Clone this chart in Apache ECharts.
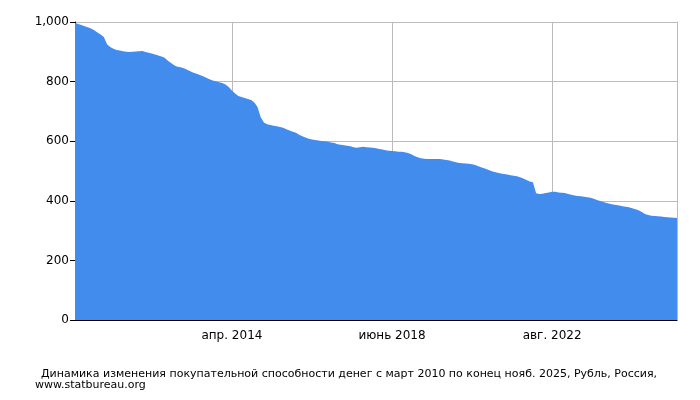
<!DOCTYPE html>
<html><head><meta charset="utf-8">
<script src="https://cdn.jsdelivr.net/npm/echarts@6/dist/echarts.min.js"></script>
<style>body{margin:0}#c{width:700px;height:400px}</style>
</head><body><div id="c"></div>
<script>
var startYear = 2010, startMonth = 3;
var monthNames = ['янв.','февр.','март','апр.','май','июнь','июль','авг.','сент.','окт.','нояб.','дек.'];
var values = [
  997,993,990,986,982,978,972,965,958,950,
  925,916,910,906,904,902,900,899,900,901,902,903,
  899,897,894,891,888,884,880,870,862,855,850,848,
  845,840,835,830,826,822,818,813,808,804,801,798,
  795,790,782,770,760,752,748,745,742,738,730,715,
  680,663,657,654,652,650,648,645,640,636,632,628,
  622,617,612,608,606,604,602,601,600,598,596,594,
  590,588,586,585,583,580,578,580,581,580,579,578,
  576,574,572,570,568,567,566,565,565,563,560,556,
  550,546,543,541,540,540,540,540,540,539,537,535,
  532,529,527,526,525,524,523,520,516,512,508,504,
  500,497,494,492,490,488,486,484,482,479,475,470,
  465,462,425,423,424,426,428,430,430,428,427,426,
  423,420,418,416,415,414,412,410,407,403,399,396,
  393,390,388,386,384,382,380,378,375,372,368,362,
  356,352,350,349,348,347,346,345,344,343,342
];
var labelIdx = [49, 99, 149];
var categories = values.map(function (v, i) {
  var m = startMonth - 1 + i;
  return monthNames[m % 12] + ' ' + (startYear + Math.floor(m / 12));
});
var font = 'DejaVu Sans';

var chart = echarts.init(document.getElementById('c'));
chart.setOption({
  animation: false,
  grid: { left: 75, right: 23, top: 22, bottom: 80 },
  title: [{
    text: 'Динамика изменения покупательной способности денег с март 2010 по конец нояб. 2025, Рубль, Россия,',
    left: 36, top: 364,
    textStyle: { fontFamily: font, fontSize: 11, fontWeight: 'normal', color: '#000' }
  }, {
    text: 'www.statbureau.org',
    left: 30, top: 375,
    textStyle: { fontFamily: font, fontSize: 11, fontWeight: 'normal', color: '#000' }
  }],
  xAxis: {
    type: 'category', data: categories, boundaryGap: false,
    axisLine: { lineStyle: { color: '#000' } },
    axisTick: { show: false },
    axisLabel: {
      interval: function (i) { return labelIdx.indexOf(i) >= 0; },
      fontFamily: font, fontSize: 12, color: '#000', margin: 10
    },
    splitLine: {
      show: true,
      interval: function (i) { return labelIdx.indexOf(i) >= 0; },
      lineStyle: { color: '#bbb' }
    }
  },
  yAxis: [{
    type: 'value', min: 0, max: 1000, interval: 200,
    axisLine: { show: true, lineStyle: { color: '#000' } },
    axisTick: { show: true, length: 5, lineStyle: { color: '#000' } },
    axisLabel: { fontFamily: font, fontSize: 12, color: '#000', margin: 6 },
    splitLine: { lineStyle: { color: '#bbb' } }
  }, {
    type: 'value', min: 0, max: 1000, position: 'right',
    axisLine: { show: true, lineStyle: { color: '#bbb' } },
    axisTick: { show: false }, axisLabel: { show: false }, splitLine: { show: false }
  }],
  series: [{
    type: 'line', data: values, symbol: 'none',
    lineStyle: { width: 0 },
    areaStyle: { color: '#428cee', opacity: 1 }
  }]
});
</script></body></html>
